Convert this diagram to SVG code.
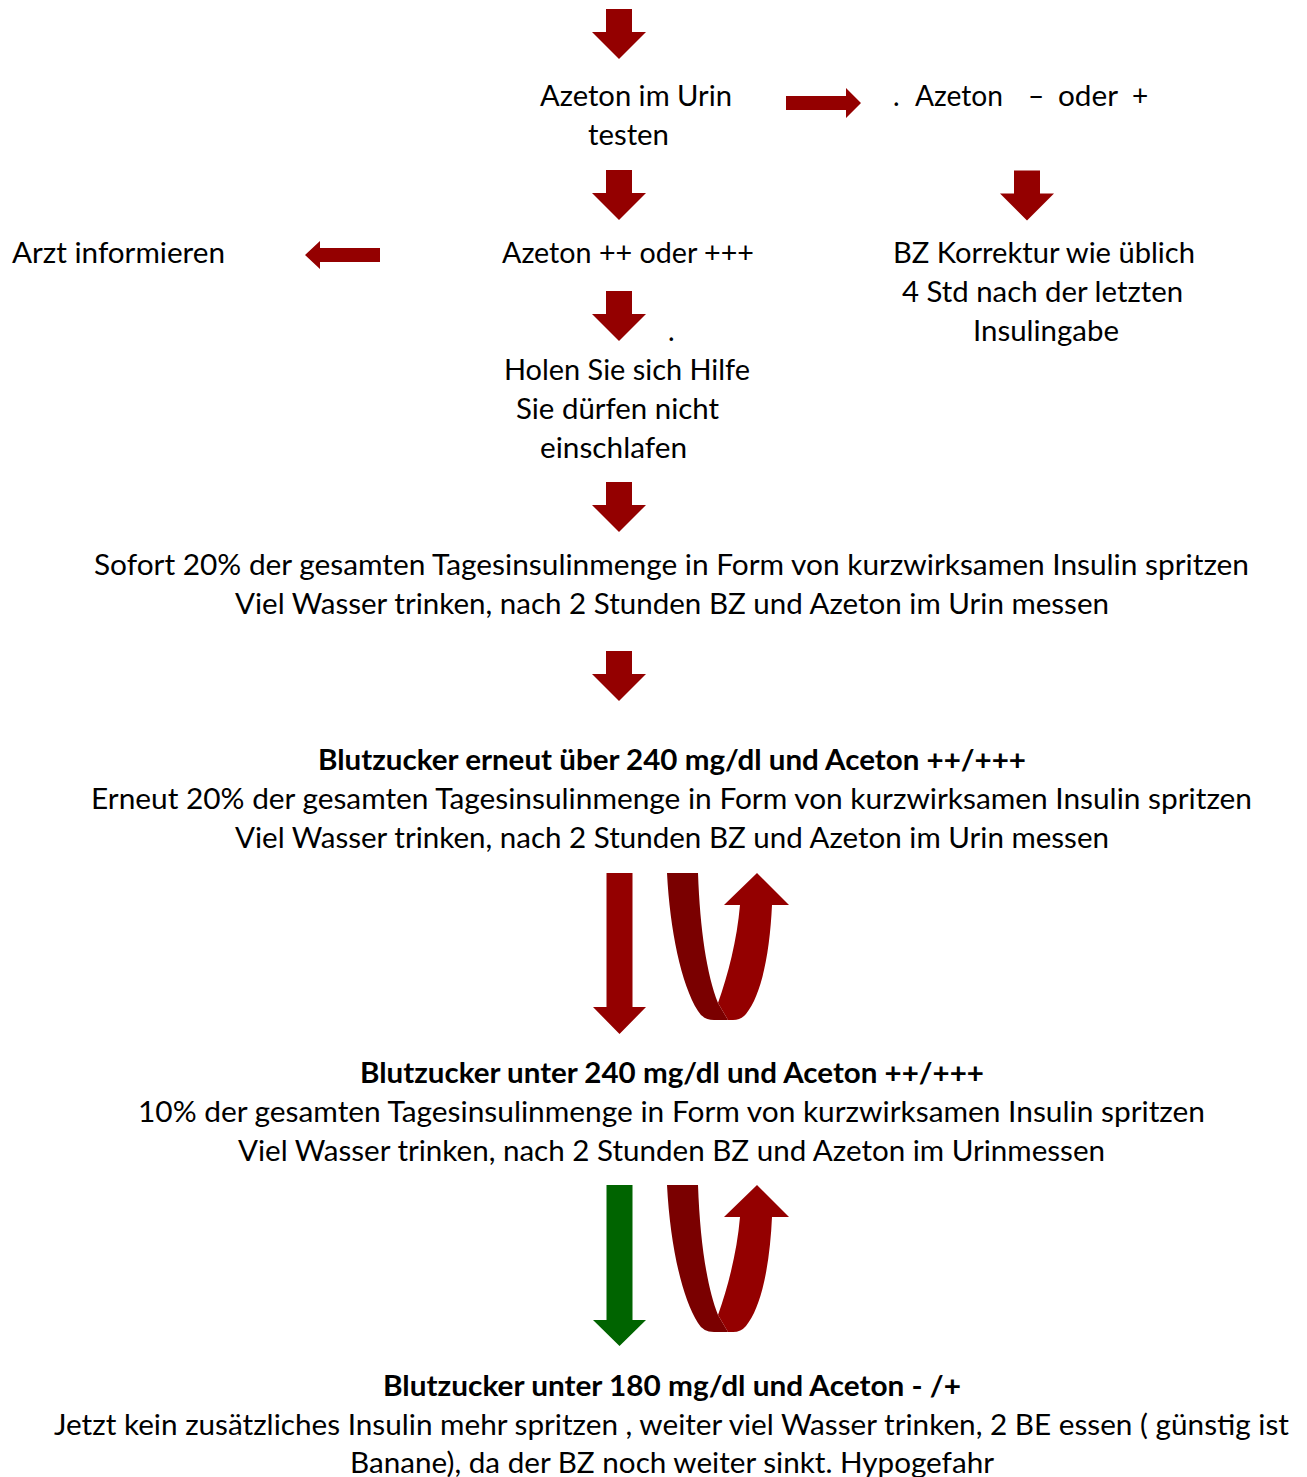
<svg xmlns="http://www.w3.org/2000/svg" xmlns:xlink="http://www.w3.org/1999/xlink" width="1307" height="1477" viewBox="0 0 1307 1477">
<style>
text{font-family:Lato,"Open Sans","Liberation Sans",sans-serif;font-size:28px;fill:#000}
.b{font-weight:bold}
.red{fill:#940000}
.dark{fill:#7a0000}
.green{fill:#006400}
</style>
<defs>
<path id="down" d="M-13,0 L13,0 L13,23 L27,23 L0,50 L-27,23 L-13,23 Z"/>
<g id="uturn">
<path class="dark" d="M667,873 L698,873 C700,930 707,975 718,1003 L728,1020 L714,1020 Q703,1020 698,1011 C681,984 670,930 667,873 Z"/>
<path class="red" d="M718,1003 C728,975 737,940 740,905 L724,905 L757,873 L789,905 L772,905 C770,950 762,995 746,1014 Q741,1020 733,1020 L728,1020 Z"/>
</g>
</defs>
<rect width="1307" height="1477" fill="#fff"/>
<g id="connectors">
<use xlink:href="#down" class="red" x="619" y="9"/>
<use xlink:href="#down" class="red" x="619" y="170"/>
<use xlink:href="#down" class="red" x="1027" y="170.5"/>
<use xlink:href="#down" class="red" x="619" y="291"/>
<use xlink:href="#down" class="red" x="619" y="482"/>
<use xlink:href="#down" class="red" x="619" y="651"/>
<path class="red" d="M786,96 L846,96 L846,88 L861,103 L846,118 L846,110 L786,110 Z"/>
<path class="red" d="M380,248 L320,248 L320,241 L305,255 L320,269 L320,262 L380,262 Z"/>
<path class="red" d="M606.5,873 L632.5,873 L632.5,1007 L646,1007 L619.5,1034 L593,1007 L606.5,1007 Z"/>
<use xlink:href="#uturn"/>
<path class="green" d="M606.5,1185 L632.5,1185 L632.5,1320 L646,1320 L619.5,1346 L593,1320 L606.5,1320 Z"/>
<use xlink:href="#uturn" transform="translate(0,312)"/>
</g>
<g id="n-urin">
<text x="540" y="106" textLength="192" lengthAdjust="spacingAndGlyphs">Azeton im Urin</text>
<text x="588" y="145" textLength="81" lengthAdjust="spacingAndGlyphs">testen</text>
</g>
<g id="n-minus">
<text y="106"><tspan x="893">.</tspan><tspan x="915" textLength="88" lengthAdjust="spacingAndGlyphs">Azeton</tspan><tspan x="1028">–</tspan><tspan x="1058" textLength="60" lengthAdjust="spacingAndGlyphs">oder</tspan><tspan x="1132">+</tspan></text>
</g>
<g id="n-arzt">
<text x="12" y="263" textLength="213" lengthAdjust="spacingAndGlyphs">Arzt informieren</text>
</g>
<g id="n-plus">
<text x="502" y="263" textLength="252" lengthAdjust="spacingAndGlyphs">Azeton ++ oder +++</text>
</g>
<g id="n-korrektur">
<text x="893" y="263" textLength="302" lengthAdjust="spacingAndGlyphs">BZ Korrektur wie üblich</text>
<text x="902" y="302" textLength="281" lengthAdjust="spacingAndGlyphs">4 Std nach der letzten</text>
<text x="973" y="341" textLength="146" lengthAdjust="spacingAndGlyphs">Insulingabe</text>
</g>
<g id="n-hilfe">
<text x="668" y="341">.</text>
<text x="504" y="380" textLength="246" lengthAdjust="spacingAndGlyphs">Holen Sie sich Hilfe</text>
<text x="516" y="419" textLength="203" lengthAdjust="spacingAndGlyphs">Sie dürfen nicht</text>
<text x="540" y="458" textLength="147" lengthAdjust="spacingAndGlyphs">einschlafen</text>
</g>
<g id="n-sofort">
<text x="94" y="575" textLength="1155" lengthAdjust="spacingAndGlyphs">Sofort 20% der gesamten Tagesinsulinmenge in Form von kurzwirksamen Insulin spritzen</text>
<text x="235" y="614" textLength="874" lengthAdjust="spacingAndGlyphs">Viel Wasser trinken, nach 2 Stunden BZ und Azeton im Urin messen</text>
</g>
<g id="n-erneut">
<text class="b" x="318" y="770" textLength="708" lengthAdjust="spacingAndGlyphs">Blutzucker erneut über 240 mg/dl und Aceton ++/+++</text>
<text x="91" y="809" textLength="1161" lengthAdjust="spacingAndGlyphs">Erneut 20% der gesamten Tagesinsulinmenge in Form von kurzwirksamen Insulin spritzen</text>
<text x="235" y="848" textLength="874" lengthAdjust="spacingAndGlyphs">Viel Wasser trinken, nach 2 Stunden BZ und Azeton im Urin messen</text>
</g>
<g id="n-unter240">
<text class="b" x="360" y="1083" textLength="624" lengthAdjust="spacingAndGlyphs">Blutzucker unter 240 mg/dl und Aceton ++/+++</text>
<text x="138" y="1122" textLength="1067" lengthAdjust="spacingAndGlyphs">10% der gesamten Tagesinsulinmenge in Form von kurzwirksamen Insulin spritzen</text>
<text x="238" y="1161" textLength="867" lengthAdjust="spacingAndGlyphs">Viel Wasser trinken, nach 2 Stunden BZ und Azeton im Urinmessen</text>
</g>
<g id="n-unter180">
<text class="b" x="383" y="1396" textLength="578" lengthAdjust="spacingAndGlyphs">Blutzucker unter 180 mg/dl und Aceton - /+</text>
<text x="54" y="1435" textLength="1235" lengthAdjust="spacingAndGlyphs">Jetzt kein zusätzliches Insulin mehr spritzen , weiter viel Wasser trinken, 2 BE essen ( günstig ist</text>
<text x="350" y="1473" textLength="644" lengthAdjust="spacingAndGlyphs">Banane), da der BZ noch weiter sinkt. Hypogefahr</text>
</g>
</svg>
